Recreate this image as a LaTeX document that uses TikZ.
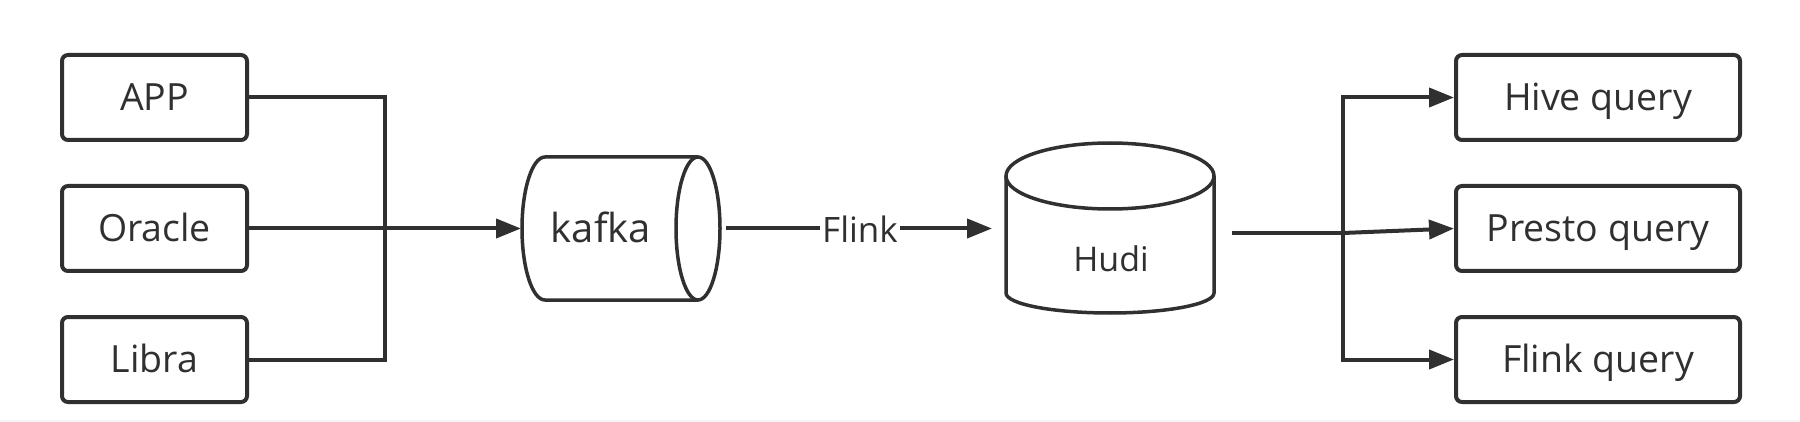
\documentclass[tikz,border=0pt]{standalone}
\usepackage{fontspec}
\setmainfont{Open Sans}
\usetikzlibrary{arrows.meta}
\definecolor{ink}{HTML}{303030}
\begin{document}
\begin{tikzpicture}[x=1pt,y=-1pt,
  box/.style={draw=ink,line width=4pt,rounded corners=6pt,minimum width=185pt,minimum height=85pt,inner sep=0pt,font=\fontsize{37.5}{44}\selectfont,text=ink,text height=26pt,text depth=0pt},
  rbox/.style={box,minimum width=284pt},
  conn/.style={draw=ink,line width=4pt},
  arr/.style={conn,-{Triangle[length=25pt,width=19pt]}},
  lbl/.style={text=ink,inner sep=0pt,anchor=base}]
\useasboundingbox (0,0) rectangle (1800,422);
\fill[white] (0,0) rectangle (1800,422);
\fill[black!4] (0,420) rectangle (1800,422);
% source boxes
\node[box] (app) at (154.5,97.5) {APP};
\node[box] (oracle) at (154.5,228.5) {Oracle};
\node[box] (libra) at (154.5,359.5) {Libra};
% query boxes
\node[rbox] (hive) at (1598,97.5) {Hive query};
\node[rbox] (presto) at (1598,228.5) {Presto query};
\node[rbox] (flinkq) at (1598,359.5) {Flink query};
% kafka horizontal cylinder
\draw[ink,line width=3.5pt] (698,157) -- (545,157) arc[start angle=270,end angle=90,x radius=23,y radius=71.5] -- (698,300);
\draw[ink,line width=3.5pt] (698,228.5) ellipse[x radius=22,y radius=71.5];
\node[lbl,font=\fontsize{40}{46}\selectfont] (kafka) at (601,243) {kafka};
\coordinate (kin) at (521,228.5);
\coordinate (kout) at (726,228.5);
% hudi vertical cylinder
\draw[ink,line width=3.5pt] (1006,176) -- (1006,293) arc[start angle=180,end angle=0,x radius=104,y radius=20] -- (1214,176);
\draw[ink,line width=3.5pt] (1110,176) ellipse[x radius=104,y radius=33];
\node[lbl,font=\fontsize{34}{40}\selectfont] (hudi) at (1111,272) {Hudi};
\coordinate (hin) at (992,228.5);
\coordinate (hout) at (1232,233);
% left connectors
\coordinate (jl) at (385,228.5);
\draw[conn] (app.east) -| (jl);
\draw[conn] (libra.east) -| (jl);
\draw[arr] (oracle.east) -- (kin);
% flink
\draw[arr] (kout) -- (hin);
\node[lbl,fill=white,inner xsep=2pt,inner ysep=4pt,font=\fontsize{35}{40}\selectfont] (flinklbl) at (860,243) {Flink};
% right connectors
\coordinate (jr) at (1343,233);
\draw[conn] (hout) -- (jr);
\draw[arr] (jr) |- (hive.west);
\draw[arr] (jr) |- (flinkq.west);
\draw[arr] (jr) -- (presto.west);
\end{tikzpicture}
\end{document}
